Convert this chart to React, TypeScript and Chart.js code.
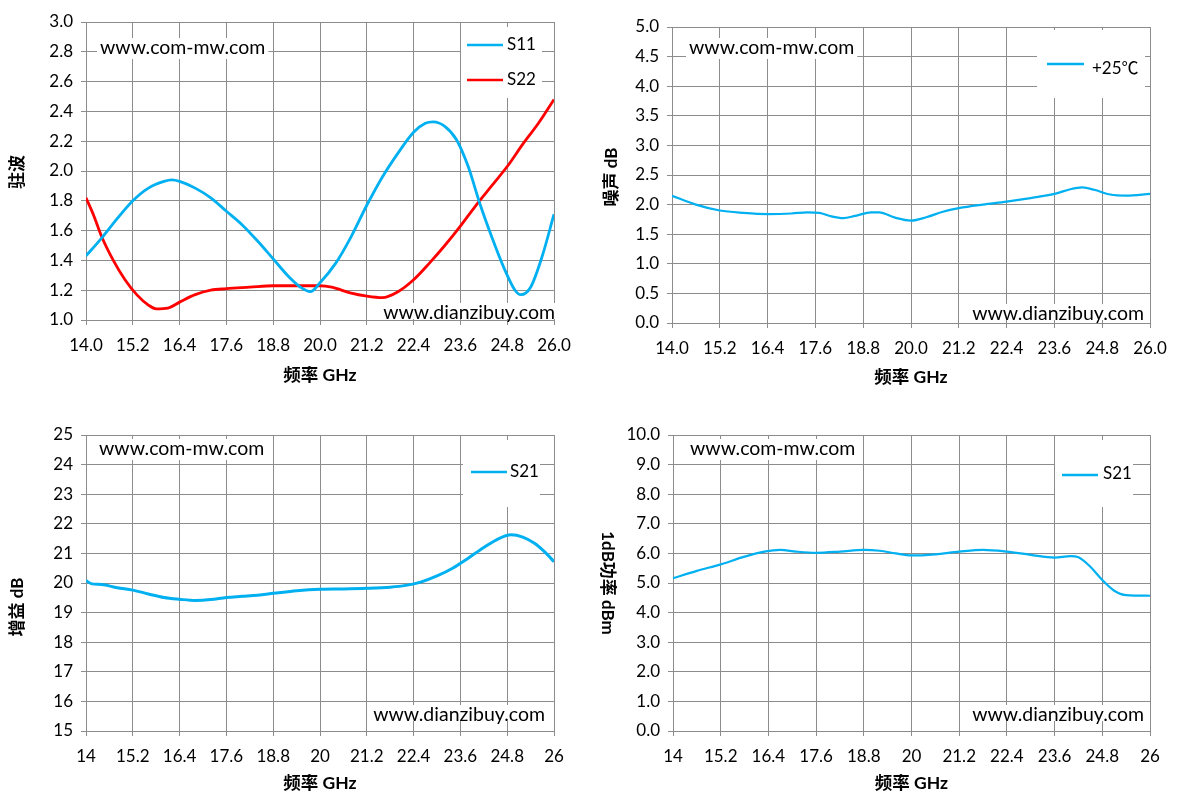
import React, { useEffect, useRef } from 'react';
import { Chart, registerables } from 'chart.js';

Chart.register(...registerables);

const FONT = "Lato, 'Noto Sans CJK SC', sans-serif";
const BLUE = '#00b0f0';
const RED = '#ff0000';
const GRID = '#8c8c8c';
const INK = '#000000';

// frequency axis, shared by all four charts
const freqTicks = [14, 15.2, 16.4, 17.6, 18.8, 20, 21.2, 22.4, 23.6, 24.8, 26];
const freqLabelsLong = ['14.0', '15.2', '16.4', '17.6', '18.8', '20.0', '21.2', '22.4', '23.6', '24.8', '26.0'];
const freqLabelsShort = ['14', '15.2', '16.4', '17.6', '18.8', '20', '21.2', '22.4', '23.6', '24.8', '26'];

// VSWR
const s11Freq = [14.0, 14.4, 14.8, 15.2, 15.6, 16.0, 16.2, 16.4, 16.8, 17.2, 17.6, 18.0, 18.4, 18.8, 19.2, 19.5, 19.75, 20.0, 20.4, 20.8, 21.2, 21.6, 22.0, 22.4, 22.7, 22.9, 23.2, 23.5, 23.8, 24.1, 24.4, 24.7, 25.0, 25.15, 25.4, 25.7, 26.0];
const s11Vswr = [1.43, 1.55, 1.68, 1.80, 1.885, 1.93, 1.94, 1.93, 1.885, 1.82, 1.73, 1.64, 1.53, 1.41, 1.29, 1.22, 1.19, 1.25, 1.38, 1.56, 1.77, 1.96, 2.12, 2.26, 2.32, 2.33, 2.30, 2.21, 2.03, 1.78, 1.56, 1.36, 1.20, 1.17, 1.22, 1.43, 1.71];
const s22Freq = [14.0, 14.2, 14.4, 14.7, 15.0, 15.3, 15.6, 15.8, 16.1, 16.4, 16.8, 17.2, 17.6, 18.2, 18.8, 19.4, 20.0, 20.3, 20.8, 21.2, 21.6, 22.0, 22.4, 22.8, 23.2, 23.6, 24.0, 24.4, 24.8, 25.2, 25.6, 26.0];
const s22Vswr = [1.82, 1.70, 1.56, 1.40, 1.27, 1.17, 1.10, 1.075, 1.08, 1.12, 1.17, 1.20, 1.21, 1.22, 1.23, 1.23, 1.23, 1.22, 1.18, 1.16, 1.15, 1.19, 1.27, 1.38, 1.50, 1.63, 1.77, 1.90, 2.03, 2.18, 2.32, 2.48];

// noise figure, +25 C
const nfFreq = [14.0, 14.6, 15.2, 15.8, 16.4, 17.0, 17.4, 17.7, 18.0, 18.3, 18.6, 19.0, 19.2, 19.6, 20.0, 20.4, 20.8, 21.2, 21.8, 22.4, 23.0, 23.6, 24.0, 24.3, 24.6, 25.0, 25.4, 26.0];
const nfDb = [2.15, 2.00, 1.90, 1.86, 1.84, 1.85, 1.87, 1.86, 1.80, 1.77, 1.81, 1.87, 1.87, 1.78, 1.73, 1.79, 1.88, 1.94, 2.00, 2.05, 2.11, 2.18, 2.26, 2.29, 2.25, 2.17, 2.15, 2.18];

// gain S21
const gainFreq = [14.0, 14.15, 14.4, 14.8, 15.2, 15.6, 16.0, 16.4, 16.8, 17.2, 17.6, 18.0, 18.4, 18.8, 19.4, 20.0, 20.6, 21.2, 21.8, 22.2, 22.6, 23.0, 23.4, 23.8, 24.2, 24.6, 24.9, 25.2, 25.5, 25.8, 26.0];
const gainDb = [20.08, 19.97, 19.95, 19.84, 19.76, 19.63, 19.51, 19.45, 19.41, 19.44, 19.51, 19.55, 19.59, 19.65, 19.74, 19.79, 19.80, 19.82, 19.86, 19.92, 20.04, 20.24, 20.50, 20.84, 21.20, 21.51, 21.63, 21.55, 21.34, 21.00, 20.72];

// P1dB
const p1Freq = [14.0, 14.6, 15.2, 15.8, 16.3, 16.7, 17.1, 17.6, 18.2, 18.8, 19.2, 19.6, 20.0, 20.6, 21.2, 21.8, 22.4, 23.0, 23.6, 24.0, 24.2, 24.5, 24.8, 25.1, 25.4, 26.0];
const p1Dbm = [5.16, 5.41, 5.63, 5.89, 6.06, 6.12, 6.06, 6.02, 6.06, 6.12, 6.09, 6.00, 5.93, 5.97, 6.06, 6.12, 6.06, 5.95, 5.86, 5.91, 5.87, 5.55, 5.10, 4.74, 4.59, 4.57];

const pts = (xs: number[], ys: number[]) => xs.map((x, i) => ({ x, y: ys[i] }));

const line = (label: string, color: string, data: { x: number; y: number }[], width: number) => ({
  label,
  data,
  borderColor: color,
  backgroundColor: color,
  borderWidth: width,
  pointRadius: 0,
  cubicInterpolationMode: 'monotone' as const,
  fill: false,
});

// watermarks, legend box and the rotated y titles are drawn here
const overlay = {
  id: 'overlay',
  afterDatasetsDraw(chart: any, _args: any, opts: any) {
    const { ctx, chartArea: ca } = chart;
    ctx.save();
    for (const m of opts.marks || []) {
      ctx.font = `19.5px ${FONT}`;
      const tw = ctx.measureText(m.text).width;
      const x = m.right ? ca.right + m.dx - tw : ca.left + m.dx;
      const base = m.bottom ? ca.bottom + m.dy : ca.top + m.dy;
      ctx.fillStyle = '#fff';
      ctx.fillRect(x - 3, base - 16, tw + 6, m.bottom ? 16 : 21);
      ctx.fillStyle = INK;
      ctx.textBaseline = 'alphabetic';
      ctx.fillText(m.text, x, base);
    }
    const lg = opts.legend;
    if (lg) {
      const bx = ca.right + lg.dx - lg.w;
      const by = ca.top + lg.dy;
      ctx.fillStyle = '#fff';
      ctx.fillRect(bx, by, lg.w, lg.h);
      lg.items.forEach((it: any) => {
        const ds = chart.data.datasets[it.index];
        ctx.strokeStyle = ds.borderColor;
        ctx.lineWidth = 2.5;
        ctx.beginPath();
        ctx.moveTo(bx + it.x0, by + it.y);
        ctx.lineTo(bx + it.x1, by + it.y);
        ctx.stroke();
        ctx.fillStyle = INK;
        ctx.font = `17px ${FONT}`;
        ctx.textBaseline = 'middle';
        ctx.fillText(ds.label, bx + it.tx, by + it.ty);
      });
    }
    const yt = opts.yTitle;
    if (yt) {
      ctx.translate(yt.x, (ca.top + ca.bottom) / 2 + yt.dy);
      ctx.rotate(yt.down ? Math.PI / 2 : -Math.PI / 2);
      ctx.font = `bold 17px ${FONT}`;
      ctx.fillStyle = INK;
      ctx.textAlign = 'center';
      ctx.textBaseline = 'middle';
      ctx.fillText(yt.text, 0, 0);
    }
    ctx.restore();
  },
};

type Spec = {
  datasets: any[];
  yMin: number;
  yMax: number;
  yStep: number;
  yDigits: number;
  xLabels: string[];
  yWidth: number;
  padTop: number;
  padRight: number;
  xHeight: number;
  xTitlePad: number;
  overlay: any;
};

function buildConfig(s: Spec): any {
  return {
    type: 'line',
    data: { datasets: s.datasets },
    plugins: [overlay],
    options: {
      animation: false,
      responsive: false,
      layout: { padding: { left: 0, top: s.padTop, right: s.padRight, bottom: 0 } },
      plugins: { legend: { display: false }, tooltip: { enabled: false }, overlay: s.overlay },
      scales: {
        x: {
          type: 'linear',
          min: 14,
          max: 26,
          afterBuildTicks: (sc: any) => {
            sc.ticks = freqTicks.map((v) => ({ value: v }));
          },
          afterFit: (sc: any) => {
            sc.height = s.xHeight;
          },
          ticks: {
            autoSkip: false,
            maxRotation: 0,
            padding: 10,
            color: INK,
            font: { family: FONT, size: 17 },
            callback: (_v: any, i: number) => s.xLabels[i],
          },
          grid: { color: GRID, tickLength: 5 },
          border: { color: GRID },
          title: {
            display: true,
            text: '频率 GHz',
            color: INK,
            font: { family: FONT, size: 17.5, weight: 'bold' },
            padding: { top: 0, bottom: s.xTitlePad },
          },
        },
        y: {
          min: s.yMin,
          max: s.yMax,
          afterFit: (sc: any) => {
            sc.width = s.yWidth;
          },
          ticks: {
            stepSize: s.yStep,
            padding: 8,
            color: INK,
            font: { family: FONT, size: 17 },
            callback: (v: any) => Number(v).toFixed(s.yDigits),
          },
          grid: { color: GRID, tickLength: 5 },
          border: { color: GRID },
        },
      },
    },
  };
}

const vswrSpec: Spec = {
  datasets: [line('S11', BLUE, pts(s11Freq, s11Vswr), 2.8), line('S22', RED, pts(s22Freq, s22Vswr), 2.8)],
  yMin: 1, yMax: 3, yStep: 0.2, yDigits: 1,
  xLabels: freqLabelsLong,
  yWidth: 86,
  padTop: 22, padRight: 34, xHeight: 80, xTitlePad: 14,
  overlay: {
    marks: [
      { text: 'www.com-mw.com', dx: 14, dy: 32 },
      { text: 'www.dianzibuy.com', right: true, bottom: true, dx: 1, dy: -1 },
    ],
    legend: {
      dx: -12, dy: 5, w: 81, h: 71,
      items: [
        { index: 0, x0: 6, x1: 42, y: 18, tx: 46, ty: 18 },
        { index: 1, x0: 6, x1: 42, y: 53, tx: 46, ty: 53 },
      ],
    },
    yTitle: { text: '驻波', x: 18, dy: 1 },
  },
};

const noiseSpec: Spec = {
  datasets: [line('+25℃', BLUE, pts(nfFreq, nfDb), 2.2)],
  yMin: 0, yMax: 5, yStep: 0.5, yDigits: 1,
  xLabels: freqLabelsLong,
  yWidth: 84,
  padTop: 27, padRight: 27, xHeight: 77, xTitlePad: 12,
  overlay: {
    marks: [
      { text: 'www.com-mw.com', dx: 17, dy: 27 },
      { text: 'www.dianzibuy.com', right: true, bottom: true, dx: -6, dy: -3 },
    ],
    legend: {
      dx: -5, dy: 3, w: 108, h: 68,
      items: [{ index: 0, x0: 10, x1: 47, y: 34, tx: 55, ty: 39 }],
    },
    yTitle: { text: '噪声 dB', x: 24, dy: 2 },
  },
};

const gainSpec: Spec = {
  datasets: [line('S21', BLUE, pts(gainFreq, gainDb), 3)],
  yMin: 15, yMax: 25, yStep: 1, yDigits: 0,
  xLabels: freqLabelsShort,
  yWidth: 86,
  padTop: 35, padRight: 34, xHeight: 74, xTitlePad: 11,
  overlay: {
    marks: [
      { text: 'www.com-mw.com', dx: 13, dy: 20 },
      { text: 'www.dianzibuy.com', right: true, bottom: true, dx: -9, dy: -10 },
    ],
    legend: {
      dx: -14, dy: 5, w: 77, h: 67,
      items: [{ index: 0, x0: 8, x1: 44, y: 32, tx: 47, ty: 32 }],
    },
    yTitle: { text: '增益 dB', x: 18, dy: 24 },
  },
};

const p1Spec: Spec = {
  datasets: [line('S21', BLUE, pts(p1Freq, p1Dbm), 2.2)],
  yMin: 0, yMax: 10, yStep: 1, yDigits: 1,
  xLabels: freqLabelsShort,
  yWidth: 85,
  padTop: 35, padRight: 27, xHeight: 74, xTitlePad: 11,
  overlay: {
    marks: [
      { text: 'www.com-mw.com', dx: 17, dy: 20 },
      { text: 'www.dianzibuy.com', right: true, bottom: true, dx: -6, dy: -10 },
    ],
    legend: {
      dx: -17, dy: 5, w: 78, h: 67,
      items: [{ index: 0, x0: 7, x1: 43, y: 35, tx: 48, ty: 34 }],
    },
    yTitle: { text: '1dB功率 dBm', x: 19, dy: 0, down: true },
  },
};

function ChartBox({ spec, left, top, width, height }: { spec: Spec; left: number; top: number; width: number; height: number }) {
  const canvas = useRef<HTMLCanvasElement | null>(null);
  useEffect(() => {
    const ctx = canvas.current?.getContext('2d');
    const chart = ctx && new Chart(ctx, buildConfig(spec));
    return () => chart?.destroy();
  }, [spec]);
  return (
    <canvas
      ref={canvas}
      width={width}
      height={height}
      style={{ position: 'absolute', left, top, width, height }}
    />
  );
}

export default function App() {
  return (
    <div style={{ position: 'absolute', left: 0, top: 0, width: 1177, height: 805, background: '#fff' }}>
      <ChartBox spec={vswrSpec} left={0} top={0} width={588} height={400} />
      <ChartBox spec={noiseSpec} left={588} top={0} width={589} height={400} />
      <ChartBox spec={gainSpec} left={0} top={400} width={588} height={405} />
      <ChartBox spec={p1Spec} left={588} top={400} width={589} height={405} />
    </div>
  );
}
